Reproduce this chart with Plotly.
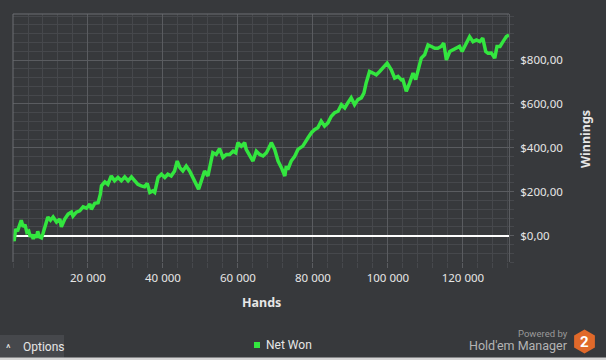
import plotly.graph_objects as go

# ---- data ----
hands = [0, 300, 700, 1200, 1700, 2200, 2700, 3200, 3700, 4200, 4600, 5000, 5400, 5800, 6200, 6600, 7000,
         7600, 8000, 8500, 9300, 10000, 10700, 11600, 12500, 12900, 13800, 14700, 15600, 16000, 16900,
         17800, 18700, 19600, 20500, 20900, 21800, 22700, 23300, 23600, 24500, 25300, 26200, 27100, 28000,
         28900, 29800, 30700, 31600, 32500, 33300, 34200, 35100, 35800, 36500, 37300, 37800, 38700, 39600,
         40500, 41300, 42200, 43100, 43800, 44500, 45300, 46200, 47100, 48000, 48900, 49500, 49800, 50200,
         51100, 52000, 52500, 53300, 54200, 55100, 56000, 56900, 57800, 58700, 59400, 60000, 60900, 61800,
         62200, 63100, 64000, 64900, 65800, 66700, 67600, 68500, 68900, 69800, 70700, 71600, 72500, 72900,
         73300, 74200, 75100, 76000, 77300, 78700, 79600, 80500, 81300, 82200, 83100, 84000, 84900, 85800,
         86700, 87600, 88500, 89300, 90200, 91100, 92000, 92900, 93600, 94200, 95100, 96000, 96900, 97800,
         98700, 99800, 100900, 101800, 102700, 103600, 104000, 104900, 105800, 106700, 107400, 108000,
         108900, 109800, 110700, 111600, 112500, 113300, 114200, 114900, 115600, 116500, 117400, 118300,
         119100, 119800, 120900, 121800, 122700, 123600, 124500, 125300, 126100, 126700, 127600, 128500,
         129100, 129900, 130700, 131600, 132300]
net_won = [5, -25, 30, 20, 45, 70, 40, 50, 15, 20, -5, 5, -15, 5, -10, 20, -5,
           -10, 10, 45, 85, 70, 85, 62, 76, 40, 76, 98, 107, 89, 107,
           113, 131, 125, 144, 120, 147, 150, 189, 227, 245, 234, 272, 250, 265,
           250, 268, 250, 268, 250, 234, 227, 223, 238, 197, 204, 197, 265, 280,
           265, 280, 272, 295, 340, 310, 295, 317, 295, 265, 234, 212, 227, 250,
           295, 272, 317, 378, 370, 396, 356, 370, 370, 385, 378, 424, 408, 424,
           393, 363, 340, 385, 370, 363, 378, 408, 424, 393, 340, 310, 272, 317,
           301, 340, 360, 393, 408, 446, 469, 484, 492, 522, 499, 514, 544, 560,
           567, 597, 582, 605, 628, 597, 620, 628, 650, 696, 748, 741, 733, 748,
           763, 786, 756, 718, 726, 710, 711, 658, 696, 741, 711, 756,
           809, 824, 869, 862, 854, 854, 862, 877, 801, 839, 847, 854,
           862, 839, 877, 907, 884, 892, 884, 900, 839, 831, 832, 809,
           862, 862, 884, 907, 915]

x_tickvals = [20000, 40000, 60000, 80000, 100000, 120000]
x_ticktext = ["20 000", "40 000", "60 000", "80 000", "100 000", "120 000"]
y_tickvals = [0, 200, 400, 600, 800]
y_ticktext = ["$0,00", "$200,00", "$400,00", "$600,00", "$800,00"]

# ---- styling ----
W, H = 606, 360
L, R, T, B = 13, 97, 14, 98
PW, PH = W - L - R, H - T - B
BG = "#37393c"
GRID_MAJ = "#5a5c60"
GRID_MIN = "#46484c"
TXT = "#e6e6e6"
FONT = "Noto Sans"
FONT2 = "Roboto"


def px(x):
    return (x - L) / PW


def py(y):
    return (H - B - y) / PH


fig = go.Figure()
fig.add_trace(go.Scatter(x=hands, y=net_won, mode="lines", name="Net Won",
                         line=dict(color="#33e63f", width=3.5), showlegend=False,
                         hoverinfo="skip"))

fig.update_layout(
    width=W, height=H,
    margin=dict(l=L, r=R, t=T, b=B),
    paper_bgcolor=BG, plot_bgcolor=BG,
    font=dict(family=FONT, color=TXT, size=12),
    showlegend=False,
    xaxis=dict(range=[0, 132300], tickvals=x_tickvals, ticktext=x_ticktext,
               showgrid=True, gridcolor=GRID_MAJ, gridwidth=1, zeroline=False,
               ticks="outside", ticklen=5, tickcolor=GRID_MAJ,
               tickfont=dict(size=11.5, color=TXT, family=FONT),
               minor=dict(dtick=4000, tick0=0, showgrid=True, gridcolor=GRID_MIN,
                          ticks="outside", ticklen=5, tickcolor=GRID_MIN),
               fixedrange=True),
    yaxis=dict(range=[-120, 1010], side="right", tickvals=y_tickvals, ticktext=y_ticktext,
               showgrid=True, gridcolor=GRID_MAJ, gridwidth=1,
               zeroline=True, zerolinecolor="#ffffff", zerolinewidth=2,
               showline=True, linecolor=GRID_MAJ, linewidth=1,
               ticks="outside", ticklen=4, tickcolor=GRID_MAJ,
               ticklabelstandoff=4,
               tickfont=dict(size=11.5, color=TXT, family=FONT),
               minor=dict(dtick=40, tick0=0, showgrid=True, gridcolor=GRID_MIN,
                          ticks="outside", ticklen=4, tickcolor=GRID_MIN),
               fixedrange=True),
)

shapes = [
    # top and left plot border
    dict(type="line", xref="paper", yref="paper", x0=0, x1=1, y0=1, y1=1,
         line=dict(color="#6c6e72", width=1)),
    dict(type="line", xref="paper", yref="paper", x0=0, x1=0, y0=0, y1=1,
         line=dict(color="#6c6e72", width=1)),
    # legend swatch
    dict(type="rect", xref="paper", yref="paper", x0=px(254), x1=px(260), y0=py(348), y1=py(342),
         fillcolor="#33e63f", line=dict(width=0)),
    # options box
    dict(type="rect", xref="paper", yref="paper", x0=px(0), x1=px(64), y0=py(357.5), y1=py(335),
         fillcolor="#46484c", line=dict(width=0)),
    # bottom strip
    dict(type="rect", xref="paper", yref="paper", x0=px(0), x1=px(606), y0=py(360), y1=py(357.5),
         fillcolor="#d6d6d6", line=dict(width=0)),
]
# logo hexagon
cx, cy, r = 584.5, 341.5, 12
hexpts = [(cx, cy - r), (cx + 0.866 * r, cy - r / 2), (cx + 0.866 * r, cy + r / 2),
          (cx, cy + r), (cx - 0.866 * r, cy + r / 2), (cx - 0.866 * r, cy - r / 2)]
path = "M " + " L ".join(f"{px(a):.5f},{py(b):.5f}" for a, b in hexpts) + " Z"
shapes.append(dict(type="path", xref="paper", yref="paper", path=path,
                   fillcolor="#e0692a", line=dict(width=0)))
fig.update_layout(shapes=shapes)

ann = [
    dict(text="<b>Hands</b>", x=px(261), y=py(302), font=dict(size=12.5, color=TXT)),
    dict(text="<b>Winnings</b>", x=px(585), y=py(139), textangle=-90, font=dict(size=12.5, color=TXT)),
    dict(text="Net Won", x=px(264), y=py(345), xanchor="left", font=dict(size=12, color=TXT, family=FONT2)),
    dict(text="^", x=px(8), y=py(348), font=dict(size=11, color=TXT, family=FONT2)),
    dict(text="Options", x=px(21), y=py(347), xanchor="left", font=dict(size=12, color=TXT, family=FONT2)),
    dict(text="Powered by", x=px(570), y=py(333), xanchor="right",
         font=dict(size=9.5, color="#9a9a9a", family=FONT2)),
    dict(text="Hold'em Manager", x=px(570), y=py(345.5), xanchor="right",
         font=dict(size=12.5, color="#b4b4b4", family=FONT2)),
    dict(text="<b>2</b>", x=px(cx), y=py(cy + 0.5), font=dict(size=15, color="#ffffff", family=FONT2)),
]
for a in ann:
    a.update(xref="paper", yref="paper", showarrow=False)
    a.setdefault("xanchor", "center")
    a.setdefault("yanchor", "middle")
fig.update_layout(annotations=ann)

fig.write_html("out.html", config={"displayModeBar": False},
               post_script="document.body.style.margin='0';document.body.style.overflow='hidden';")
